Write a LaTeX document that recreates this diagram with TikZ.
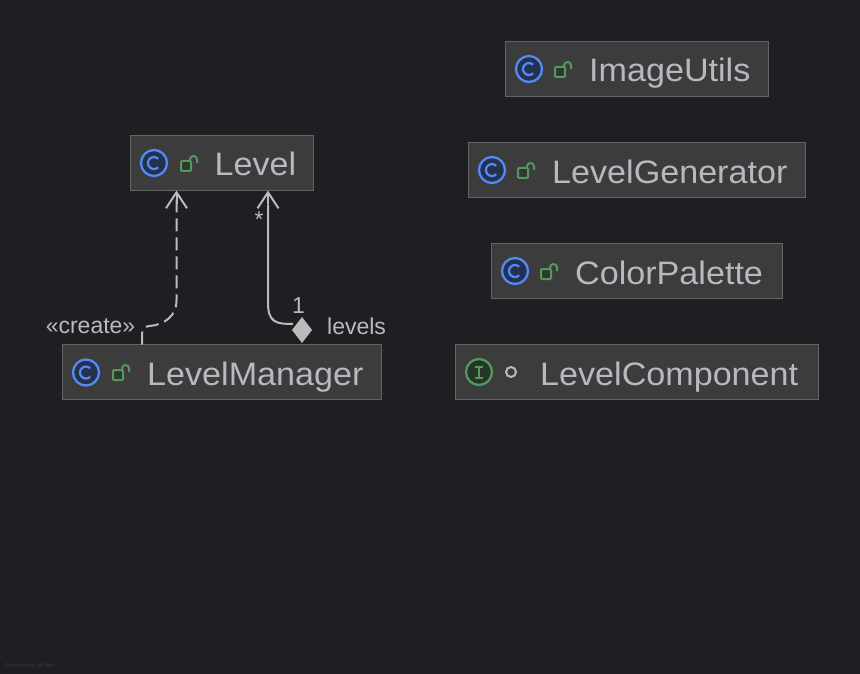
\documentclass[tikz,border=0pt]{standalone}
\usepackage{fontspec}
\setmainfont{Liberation Sans}
\newfontfamily\namefont[FakeStretch=1.05]{Liberation Sans}
\usetikzlibrary{arrows.meta,calc}
\definecolor{bg}{HTML}{1E1F22}
\definecolor{boxfill}{HTML}{3C3C3C}
\definecolor{boxline}{HTML}{646464}
\definecolor{txt}{HTML}{B6B9C0}
\definecolor{lnk}{HTML}{BBBBBB}
\definecolor{cblue}{HTML}{548AF7}
\definecolor{cbluef}{HTML}{25324D}
\definecolor{cgreen}{HTML}{57965C}
\definecolor{cgreenf}{HTML}{253627}
\definecolor{lockf}{HTML}{2A3A2C}
\tikzset{
  x=1pt,y=-1pt,
  classbox/.style={draw=boxline,fill=boxfill,line width=1.2pt,anchor=north west,inner sep=0pt,outer sep=0pt},
  classname/.style={text=txt,anchor=base west,inner sep=0pt,font=\namefont\fontsize{32.5}{36}\selectfont},
  lbl/.style={text=lnk,inner sep=0pt,font=\fontsize{23}{26}\selectfont},
  barb/.style={-{Straight Barb[length=16pt,width=21pt,line width=2pt]}},
  link/.style={draw=lnk,line width=2pt},
}
\newcommand{\clsicon}[2]{% centre
  \draw[draw=cblue,fill=cbluef,line width=2.3pt] (#1,#2) circle[radius=13];
  \draw[draw=cblue,line width=2.2pt] (#1+4.2,#2-4.2) arc[start angle=-45,end angle=-315,radius=6];
}
\newcommand{\lockicon}[2]{% x y of body centre
  \draw[draw=cgreen,fill=lockf,line width=2pt,rounded corners=1pt] (#1-5,#2-5) rectangle (#1+5,#2+5);
  \draw[draw=cgreen,line width=2pt] (#1+4,#2-5) -- (#1+4,#2-6.5) arc[start angle=180,end angle=360,radius=3.5] -- (#1+11,#2-3);
}
\begin{document}
\begin{tikzpicture}
\useasboundingbox[fill=bg] (0,0) rectangle (860,674);

\node[classbox,minimum width=183pt,minimum height=55pt] (level) at (130.5,135.5) {};
\node[classbox,minimum width=319pt,minimum height=55pt] (manager) at (62.5,344.5) {};
\node[classbox,minimum width=263pt,minimum height=55pt] (utils) at (505.5,41.5) {};
\node[classbox,minimum width=337pt,minimum height=55pt] (generator) at (468.5,142.5) {};
\node[classbox,minimum width=291pt,minimum height=55pt] (palette) at (491.5,243.5) {};
\node[classbox,minimum width=363pt,minimum height=55pt] (component) at (455.5,344.5) {};

\clsicon{154}{163}\lockicon{186}{166}
\clsicon{86}{372.5}\lockicon{118}{375}
\clsicon{529}{69}\lockicon{560}{72}
\clsicon{492}{170}\lockicon{523}{173}
\clsicon{515}{271}\lockicon{546}{274}

\draw[draw=cgreen,fill=cgreenf,line width=2.3pt] (479,372) circle[radius=13];
\draw[draw=cgreen,line width=2pt] (475,366.5) -- (483,366.5) (479,366.5) -- (479,377.5) (475,377.5) -- (483,377.5);
\draw[draw=txt,line width=2pt] (511,372) circle[radius=5];

\node[classname] (tlevel) at (214.5,176) {Level};
\node[classname] (tmanager) at (147,385) {LevelManager};
\node[classname] (tutils) at (589,82) {ImageUtils};
\node[classname] (tgenerator) at (552,183) {LevelGenerator};
\node[classname] (tpalette) at (575,284) {ColorPalette};
\node[classname] (tcomponent) at (540,385) {LevelComponent};

\coordinate (dstart) at ($(manager.north west)+(79.5,0)$);
\coordinate (dend) at ($(level.south west)+(46,0)$);
\draw[link,dash pattern=on 13pt off 6pt] (dstart) -- ++(0,-11) .. controls +(0,-5) and +(-3,-0.5) .. ($(dstart)+(8,-18.5)$) .. controls ($(dstart)+(22,-20)$) and ($(dend)+(0,126)$) .. ($(dend)+(0,110)$) -- ($(dend)+(0,8)$);
\draw[barb,draw=lnk,line width=2pt] ($(dend)+(0,14)$) -- (dend);

\fill[lnk] (302,317) -- (312,330) -- (302,343) -- (292,330) -- cycle;
\coordinate (diam) at (293,324);
\coordinate (send) at ($(level.south west)+(137.5,0)$);
\draw[link] (diam) .. controls (276,324) and ($(send)+(0,132)$) .. ($(send)+(0,112)$) -- ($(send)+(0,14)$);
\draw[barb,draw=lnk,line width=2pt] ($(send)+(0,14)$) -- (send);

\node[lbl,anchor=east] (lcreate) at (135.5,326.5) {«create»};
\node[lbl,anchor=west] (llevels) at (327,326.5) {levels};
\node[lbl] (lone) at (298.5,306) {1};
\node[lbl] (lstar) at (259,220) {*};
\node[text=bg!88!white,anchor=west,inner sep=0pt,font=\fontsize{5.9}{7}\selectfont] (powered) at (5,665.5) {Powered by yFiles};
\end{tikzpicture}
\end{document}
